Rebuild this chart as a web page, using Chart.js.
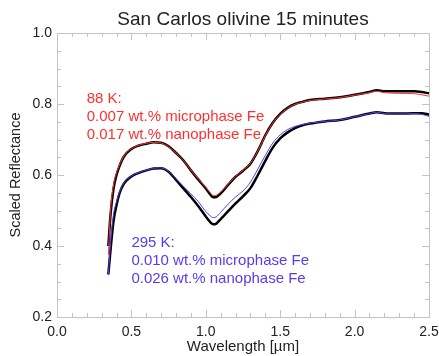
<!DOCTYPE html>
<html>
<head>
<meta charset="utf-8">
<title>San Carlos olivine 15 minutes</title>
<script src="https://cdn.jsdelivr.net/npm/chart.js@4.4.1/dist/chart.umd.min.js"></script>
<style>
  html, body { margin: 0; padding: 0; background: #fff; }
  #chart { display: block; }
</style>
</head>
<body>
<canvas id="chart" width="439" height="356"></canvas>
<script>
// wavelength grid (micron) shared by all four spectra
const wavelength = [0.345, 0.36, 0.38, 0.40, 0.42, 0.45, 0.50, 0.55, 0.60, 0.65, 0.70, 0.75, 0.80, 0.85, 0.90, 0.95, 1.00, 1.03, 1.05, 1.07, 1.10, 1.15, 1.20, 1.25, 1.30, 1.35, 1.40, 1.45, 1.50, 1.55, 1.60, 1.65, 1.70, 1.80, 1.90, 2.00, 2.10, 2.15, 2.20, 2.30, 2.40, 2.45, 2.50];

// 88 K: measured (black) and model (red)
const measured88 = [0.400, 0.490, 0.562, 0.600, 0.625, 0.652, 0.673, 0.683, 0.688, 0.692, 0.691, 0.681, 0.662, 0.641, 0.613, 0.587, 0.562, 0.545, 0.537, 0.538, 0.548, 0.572, 0.595, 0.612, 0.632, 0.668, 0.712, 0.747, 0.772, 0.789, 0.800, 0.806, 0.811, 0.815, 0.819, 0.826, 0.834, 0.839, 0.836, 0.836, 0.836, 0.834, 0.830];
const model88    = [0.375, 0.500, 0.572, 0.606, 0.628, 0.654, 0.674, 0.684, 0.689, 0.692, 0.690, 0.680, 0.662, 0.641, 0.614, 0.589, 0.565, 0.550, 0.542, 0.543, 0.552, 0.574, 0.596, 0.613, 0.633, 0.668, 0.711, 0.746, 0.771, 0.788, 0.799, 0.805, 0.810, 0.814, 0.818, 0.825, 0.832, 0.836, 0.832, 0.830, 0.829, 0.826, 0.822];

// 295 K: measured (black) and model (blue)
const measured295 = [0.320, 0.390, 0.470, 0.515, 0.548, 0.576, 0.596, 0.606, 0.613, 0.618, 0.619, 0.609, 0.586, 0.562, 0.538, 0.512, 0.483, 0.467, 0.461, 0.463, 0.476, 0.498, 0.520, 0.540, 0.563, 0.600, 0.640, 0.677, 0.703, 0.720, 0.732, 0.740, 0.745, 0.751, 0.755, 0.764, 0.773, 0.777, 0.774, 0.773, 0.774, 0.774, 0.770];
const model295    = [0.318, 0.410, 0.490, 0.525, 0.552, 0.578, 0.597, 0.607, 0.614, 0.619, 0.620, 0.610, 0.590, 0.568, 0.547, 0.525, 0.497, 0.485, 0.480, 0.482, 0.495, 0.518, 0.538, 0.555, 0.580, 0.617, 0.655, 0.690, 0.713, 0.728, 0.737, 0.742, 0.746, 0.751, 0.755, 0.764, 0.773, 0.777, 0.773, 0.772, 0.773, 0.771, 0.765];

// axis ranges and tick steps
const xRange = [0.0, 2.5];
const yRange = [0.2, 1.0];
const xMinorStep = 0.1, xMajorStep = 0.5;
const yMinorStep = 0.05, yMajorStep = 0.2;

const chartTitle = 'San Carlos olivine 15 minutes';
const redLines = ['88 K:', '0.007 wt.% microphase Fe', '0.017 wt.% nanophase Fe'];
const blueLines = ['295 K:', '0.010 wt.% microphase Fe', '0.026 wt.% nanophase Fe'];

const RED = '#ff3030';
const BLUE = '#5a3af0';
const FRAME = '#c4c4c4';
const TEXT = '#222';
const FONT = "'Liberation Sans', Arial, Helvetica, sans-serif";

function pairs(ys) {
    return wavelength.map((w, i) => ({ x: w, y: ys[i] }));
}

function isMultiple(v, step) {
    const q = v / step;
    return Math.abs(q - Math.round(q)) < 1e-6;
}

// IDL-style frame with inward ticks on all four sides
const frameTicks = {
    id: 'frameTicks',
    afterDraw(chart) {
        const { ctx, chartArea: a, scales: { x, y } } = chart;
        ctx.save();
        ctx.strokeStyle = FRAME;
        ctx.lineWidth = 1;
        ctx.strokeRect(a.left + 0.5, a.top + 0.5, a.right - a.left, a.bottom - a.top);
        ctx.beginPath();
        x.ticks.forEach(t => {
            const px = Math.round(x.getPixelForValue(t.value)) + 0.5;
            const len = isMultiple(t.value, xMajorStep) ? 7 : 4;
            ctx.moveTo(px, a.bottom); ctx.lineTo(px, a.bottom - len);
            ctx.moveTo(px, a.top); ctx.lineTo(px, a.top + len);
        });
        y.ticks.forEach(t => {
            const py = Math.round(y.getPixelForValue(t.value)) + 0.5;
            const len = isMultiple(t.value, yMajorStep) ? 7 : 4;
            ctx.moveTo(a.left, py); ctx.lineTo(a.left + len, py);
            ctx.moveTo(a.right, py); ctx.lineTo(a.right - len, py);
        });
        ctx.stroke();

        // title centred over the plot box, not the canvas
        ctx.fillStyle = TEXT;
        ctx.font = '19px ' + FONT;
        ctx.textAlign = 'center';
        ctx.textBaseline = 'alphabetic';
        ctx.fillText(chartTitle, (a.left + a.right) / 2, a.top - 8);
        ctx.restore();
    }
};

// coloured text blocks, anchored at data coordinates
const notes = {
    id: 'notes',
    afterDatasetsDraw(chart) {
        const { ctx, scales: { x, y } } = chart;
        const blocks = [
            { lines: redLines, color: RED, at: [0.2, 0.803] },
            { lines: blueLines, color: BLUE, at: [0.5, 0.398] }
        ];
        ctx.save();
        ctx.font = '15px ' + FONT;
        ctx.textAlign = 'left';
        ctx.textBaseline = 'alphabetic';
        blocks.forEach(b => {
            const px = x.getPixelForValue(b.at[0]);
            const py = y.getPixelForValue(b.at[1]);
            ctx.fillStyle = b.color;
            b.lines.forEach((s, i) => ctx.fillText(s, px, py + i * 18));
        });
        ctx.restore();
    }
};

new Chart(document.getElementById('chart'), {
    type: 'line',
    data: {
        datasets: [
            { label: '88 K model', data: pairs(model88), borderColor: RED, borderWidth: 1 },
            { label: '295 K model', data: pairs(model295), borderColor: BLUE, borderWidth: 1 },
            { label: '88 K measured', data: pairs(measured88), borderColor: '#000', borderWidth: 2.5 },
            { label: '295 K measured', data: pairs(measured295), borderColor: '#000', borderWidth: 2.5 }
        ]
    },
    options: {
        responsive: false,
        animation: false,
        events: [],
        elements: {
            point: { radius: 0 },
            line: { cubicInterpolationMode: 'monotone', fill: false }
        },
        layout: { padding: { left: 0, right: 10, top: 33, bottom: 0 } },
        plugins: {
            legend: { display: false },
            tooltip: { enabled: false },
            title: { display: false }
        },
        scales: {
            x: {
                type: 'linear',
                min: xRange[0],
                max: xRange[1],
                grid: { display: false, drawTicks: false },
                border: { display: false },
                afterFit(scale) {
                    scale.height = 39;
                    // let the "2.5" label hang into the right margin
                    scale.paddingLeft = 0;
                    scale.paddingRight = 0;
                },
                ticks: {
                    stepSize: xMinorStep,
                    autoSkip: false,
                    maxRotation: 0,
                    padding: 7,
                    color: TEXT,
                    font: { family: FONT, size: 14 },
                    callback: v => isMultiple(v, xMajorStep) ? v.toFixed(1) : ''
                },
                title: {
                    display: true,
                    text: 'Wavelength [\u00b5m]',
                    color: TEXT,
                    font: { family: FONT, size: 15 },
                    padding: { top: 0, bottom: 0 }
                }
            },
            y: {
                min: yRange[0],
                max: yRange[1],
                grid: { display: false, drawTicks: false },
                border: { display: false },
                afterFit(scale) { scale.width = 57; },
                ticks: {
                    stepSize: yMinorStep,
                    autoSkip: false,
                    padding: 5,
                    color: TEXT,
                    font: { family: FONT, size: 14 },
                    callback: v => isMultiple(v, yMajorStep) ? v.toFixed(1) : ''
                },
                title: {
                    display: true,
                    text: 'Scaled Reflectance',
                    color: TEXT,
                    font: { family: FONT, size: 14.5 },
                    padding: { top: 7, bottom: 0 }
                }
            }
        }
    },
    plugins: [frameTicks, notes]
});
</script>
</body>
</html>
